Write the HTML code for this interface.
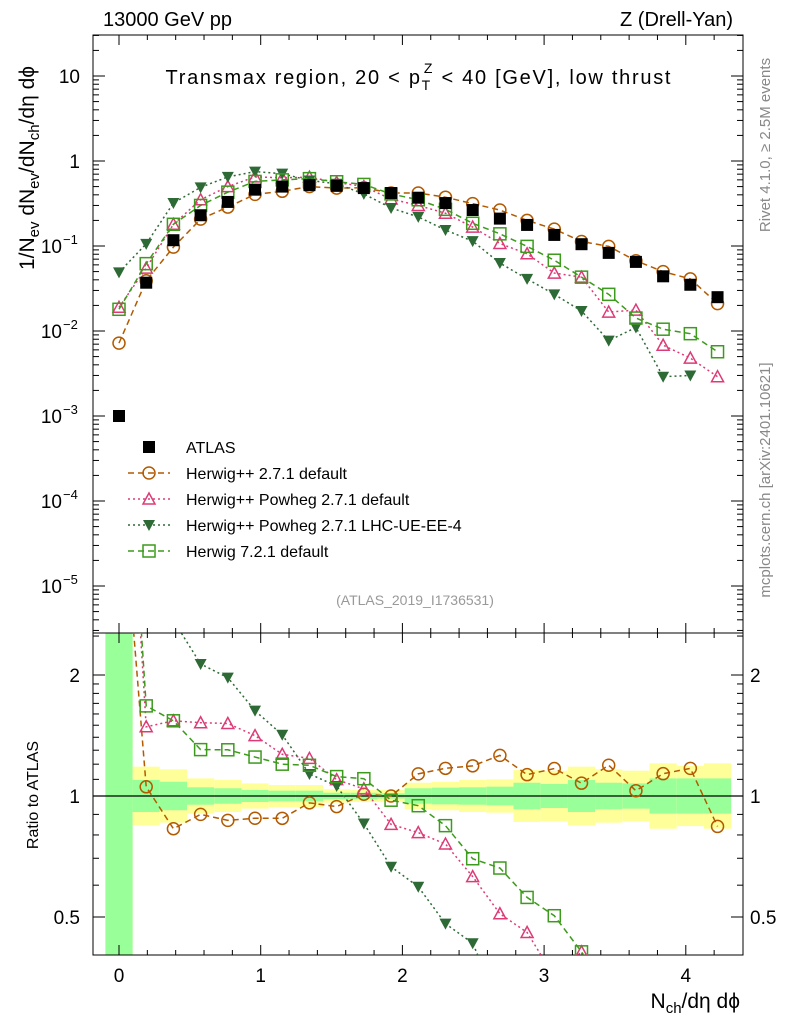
<!DOCTYPE html>
<html><head><meta charset="utf-8"><style>
html,body{margin:0;padding:0;background:#fff;overflow:hidden;width:786px;height:1024px;}
svg{display:block;}
svg text{font-family:"Liberation Sans",sans-serif;}
</style></head><body>
<svg id="chart" width="786" height="1024" xmlns="http://www.w3.org/2000/svg"></svg>
<script>
const xs = [0,1,2,3,4,5,6,7,8,9,10,11,12,13,14,15,16,17,18,19,20,21,22].map(k=>k*0.192);
const atlas = [0.001,0.037,0.117,0.23,0.33,0.46,0.5,0.52,0.51,0.48,0.42,0.37,0.32,0.265,0.21,0.177,0.135,0.105,0.083,0.065,0.044,0.035,0.025];
const herwigpp = [0.0072,0.039,0.097,0.207,0.287,0.405,0.44,0.50,0.48,0.485,0.42,0.42,0.375,0.315,0.265,0.20,0.158,0.113,0.099,0.067,0.050,0.041,0.021];
const powheg = [0.019,0.055,0.18,0.35,0.50,0.65,0.635,0.645,0.56,0.50,0.357,0.30,0.243,0.167,0.107,0.081,0.048,0.043,0.0167,0.0176,0.0068,0.0048,0.0029];
const lhcue = [0.049,0.106,0.32,0.49,0.65,0.75,0.71,0.59,0.54,0.41,0.28,0.22,0.154,0.114,0.063,0.041,0.027,0.0172,0.0077,0.011,0.0029,0.003,null];
const herwig7 = [0.018,0.062,0.18,0.30,0.43,0.575,0.6,0.62,0.57,0.53,0.41,0.35,0.27,0.185,0.139,0.099,0.068,0.043,0.027,0.0142,0.0105,0.0093,0.0057];
const uncYellow = [9,0.183,0.165,0.106,0.096,0.075,0.065,0.065,0.039,0.035,0.035,0.079,0.085,0.096,0.1,0.16,0.156,0.183,0.165,0.156,0.206,0.188,0.206];
const uncGreen = [9,0.096,0.085,0.051,0.045,0.035,0.031,0.031,0.019,0.019,0.015,0.045,0.049,0.051,0.055,0.079,0.071,0.096,0.079,0.075,0.106,0.106,0.106];
const xTicks = [0,1,2,3,4];
const yTicks = [1,0,-1,-2,-3,-4,-5];
const yTickLabels = ["10","1","10","10","10","10","10"];
const yTickExp = ["","","−1","−2","−3","−4","−5"];
const rTicks = [2,1,0.5];
const rTickLabels = ["2","1","0.5"];

const svg=document.getElementById('chart');
const NS='http://www.w3.org/2000/svg';
const L=93,R=743,T=35,M=633,B=955;
const X=v=>119+(v)*141.7;
const Y=v=>161-Math.log10(v)*85;
const YR=r=>796-Math.log2(r)*121;
function el(tag,attrs,parent){const e=document.createElementNS(NS,tag);for(const k in attrs)e.setAttribute(k,attrs[k]);(parent||svg).appendChild(e);return e;}

const defs=el('defs',{});
const c1=el('clipPath',{id:'cm'},defs);el('rect',{x:L,y:T,width:R-L,height:M-T},c1);
const c2=el('clipPath',{id:'cr'},defs);el('rect',{x:L,y:M,width:R-L,height:B-M},c2);

const gBand=el('g',{'clip-path':'url(#cr)'});


const half=0.096;
for(let i=0;i<xs.length;i++){
  const x0=X(xs[i]-half),x1=X(xs[i]+half);
  const uy=uncYellow[i],ug=uncGreen[i];
  const ry=el('rect',{x:x0,y:YR(1+uy),width:x1-x0,height:YR(1/(1+uy))-YR(1+uy),fill:'#ffff99'},gBand);
  
  
  const rg=el('rect',{x:x0,y:YR(1+ug),width:x1-x0,height:YR(1/(1+ug))-YR(1+ug),fill:'#99ff99'},gBand);
  
  
}
el('line',{x1:L,x2:R,y1:YR(1),y2:YR(1),stroke:'#000','stroke-width':1.2});

el('rect',{x:L,y:T,width:R-L,height:M-T,fill:'none',stroke:'#000','stroke-width':1});
el('rect',{x:L,y:M,width:R-L,height:B-M,fill:'none',stroke:'#000','stroke-width':1});

for(let v=-0.2;v<=4.4;v+=0.2){
  const vv=Math.round(v*10)/10;
  const major=Math.abs(vv-Math.round(vv))<1e-6;
  const len=major?10:5;
  const x=X(vv); if(x<L||x>R)continue;
  [[T,1],[M,-1],[M,1],[B,-1]].forEach(([y,d])=>el('line',{x1:x,x2:x,y1:y,y2:y+d*len,stroke:'#000'}));
}
xTicks.forEach(v=>{const t=el('text',{x:X(v),y:982,'font-size':19,'text-anchor':'middle'});t.textContent=v;
});

for(let d=-6;d<=1;d++){for(let m=1;m<10;m++){const v=m*Math.pow(10,d);const y=Y(v);if(y<T||y>M)continue;const len=m===1?12:6;
el('line',{x1:L,x2:L+len,y1:y,y2:y,stroke:'#000'});el('line',{x1:R,x2:R-len,y1:y,y2:y,stroke:'#000'});}}
yTicks.forEach((p,i)=>{const y=Y(Math.pow(10,p));const t=el('text',{x:yTickExp[i]?62:80,y:y+7,'font-size':19,'text-anchor':'end'});t.textContent=yTickLabels[i];

if(yTickExp[i]){const e=el('text',{x:63,y:y-2,'font-size':13});e.textContent=yTickExp[i];}});

[0.4,0.5,0.6,0.7,0.8,0.9,1,1.1,1.2,1.3,1.4,1.5,1.6,1.7,1.8,1.9,2,2.5].forEach(v=>{const y=YR(v);if(y<M||y>B)return;const len=(v===0.5||v===1||v===2)?12:6;
el('line',{x1:L,x2:L+len,y1:y,y2:y,stroke:'#000'});el('line',{x1:R,x2:R-len,y1:y,y2:y,stroke:'#000'});});
rTicks.forEach((v,i)=>{const y=YR(v)+7;const a=el('text',{x:80,y,'font-size':19,'text-anchor':'end'});a.textContent=rTickLabels[i];

const b=el('text',{x:750,y,'font-size':19});b.textContent=rTickLabels[i];});

function marker(g,type,x,y,col){
  if(type==='sq') return el('rect',{x:x-6,y:y-6,width:12,height:12,fill:'#000'},g);
  if(type==='circ') return el('circle',{cx:x,cy:y,r:6,fill:'none',stroke:col,'stroke-width':1.5},g);
  if(type==='tri') return el('path',{d:`M${x-6},${y+5}L${x+6},${y+5}L${x},${y-6}Z`,fill:'none',stroke:col,'stroke-width':1.5},g);
  if(type==='dtri') return el('path',{d:`M${x-6},${y-5}L${x+6},${y-5}L${x},${y+6}Z`,fill:col},g);
  if(type==='osq') return el('rect',{x:x-6,y:y-6,width:12,height:12,fill:'none',stroke:col,'stroke-width':1.5},g);
}
const series=[
 {name:'herwigpp-2-7-1',vals:herwigpp,col:'#b35a00',dash:'6,4',m:'circ'},
 {name:'herwigpp-powheg-2-7-1',vals:powheg,col:'#dd3b77',dash:'2,3',m:'tri'},
 {name:'herwigpp-powheg-lhc-ue',vals:lhcue,col:'#2e6a35',dash:'2,3',m:'dtri'},
 {name:'herwig-7-2-1',vals:herwig7,col:'#3c9a1c',dash:'6,4',m:'osq'}
];
series.forEach(s=>{
  ['main','ratio'].forEach(panel=>{
    const g=el('g',{'clip-path':panel==='main'?'url(#cm)':'url(#cr)'});
    
    
    const pts=[];
    s.vals.forEach((v,i)=>{if(v==null)return;
      const yv=panel==='main'?Y(v):YR(v/atlas[i]);
      pts.push([X(xs[i]),yv]);});
    el('polyline',{points:pts.map(p=>p.join(',')).join(' '),fill:'none',stroke:s.col,'stroke-width':1.5,'stroke-dasharray':s.dash},g);
    pts.forEach(p=>{const mk=marker(g,s.m,p[0],p[1],s.col);
      
      });
  });
});
const ga=el('g',{'clip-path':'url(#cm)'});


atlas.forEach((v,i)=>{const mk=marker(ga,'sq',X(xs[i]),Y(v));
  
  });

const leg=[['ATLAS','sq','#000',null],['Herwig++ 2.7.1 default','circ','#b35a00','6,4'],['Herwig++ Powheg 2.7.1 default','tri','#dd3b77','2,3'],['Herwig++ Powheg 2.7.1 LHC-UE-EE-4','dtri','#2e6a35','2,3'],['Herwig 7.2.1 default','osq','#3c9a1c','6,4']];
const lg=el('g',{});


leg.forEach((e,i)=>{const y=447+i*26;const g=el('g',{},lg);
  
  
  if(e[3])el('line',{x1:128,x2:170,y1:y,y2:y,stroke:e[2],'stroke-width':1.5,'stroke-dasharray':e[3]},g);
  marker(g,e[1],149,y,e[2]);
  const t=el('text',{x:186,y:y+6,'font-size':16},g);t.textContent=e[0];});

function txt(s,attrs,name){const t=el('text',attrs);t.textContent=s;return t;}
txt('13000 GeV pp',{x:103,y:26,'font-size':20},'energy-label');
txt('Z (Drell-Yan)',{x:733,y:26,'font-size':20,'text-anchor':'end'},'process-label');
const tt=txt('',{x:418,y:84,'font-size':20,'text-anchor':'middle',textLength:505,lengthAdjust:'spacing'},'plot-title');
tt.innerHTML='Transmax region, 20 &lt; p<tspan font-size="14" dy="6">T</tspan><tspan font-size="14" dx="-8" dy="-17">Z</tspan><tspan dy="11"> &lt; 40 [GeV], low thrust</tspan>';
txt('(ATLAS_2019_I1736531)',{x:415,y:605,'font-size':14,'text-anchor':'middle',fill:'#999'},'analysis-id');
txt('Rivet 4.1.0, ≥ 2.5M events',{x:0,y:0,'font-size':15,fill:'#888','text-anchor':'middle',transform:'translate(770,145) rotate(-90)'},'rivet-label');
txt('mcplots.cern.ch [arXiv:2401.10621]',{x:0,y:0,'font-size':15,fill:'#888','text-anchor':'middle',transform:'translate(770,480) rotate(-90)'},'mcplots-label');
const yt=txt('',{x:0,y:0,'font-size':21,'text-anchor':'middle',transform:'translate(34,168) rotate(-90)'},'y-axis-title');
yt.innerHTML='1/N<tspan font-size="15" dy="5">ev</tspan><tspan dy="-5"> dN</tspan><tspan font-size="15" dy="5">ev</tspan><tspan dy="-5">/dN</tspan><tspan font-size="15" dy="5">ch</tspan><tspan dy="-5">/dη dϕ</tspan>';
txt('Ratio to ATLAS',{x:0,y:0,'font-size':16,'text-anchor':'middle',transform:'translate(38,795) rotate(-90)'},'ratio-axis-title');
const xt=txt('',{x:740,y:1008,'font-size':21,'text-anchor':'end'},'x-axis-title');
xt.innerHTML='N<tspan font-size="15" dy="5">ch</tspan><tspan dy="-5">/dη dϕ</tspan>';
</script>
</body></html>
